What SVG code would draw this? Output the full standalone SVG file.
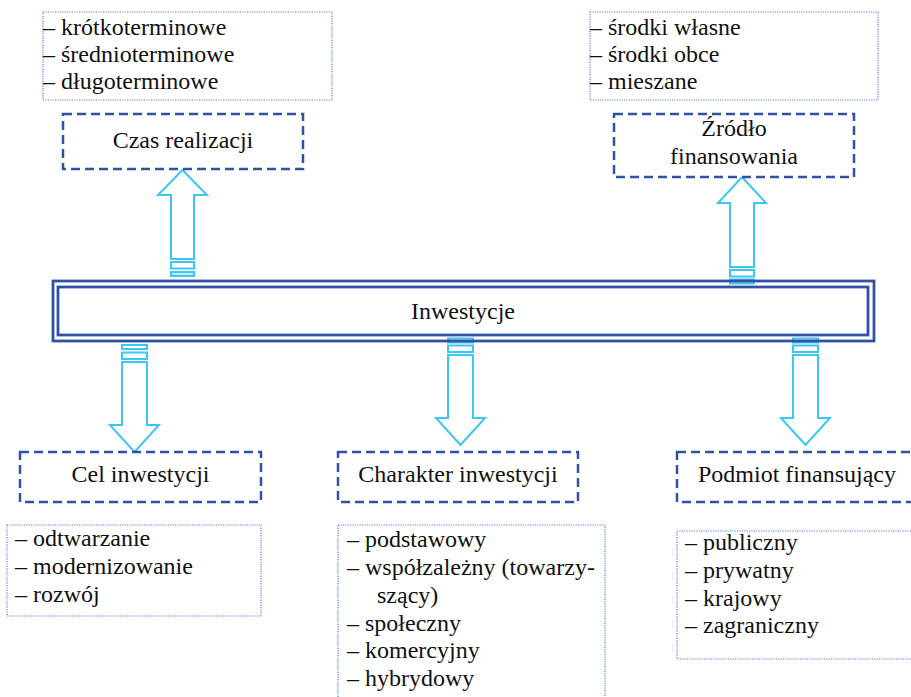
<svg xmlns="http://www.w3.org/2000/svg" width="911" height="697" viewBox="0 0 911 697">
  <style>
    text { font-family: "Liberation Serif", "Times New Roman", serif; font-size: 24px; fill: #111; }
    .mid { text-anchor: middle; }
    .list { fill: #fff; stroke: #5b7fd6; stroke-width: 1.2; stroke-dasharray: 1.2 1.2; }
    .cat { fill: #fff; stroke: #3152a3; stroke-width: 2.5; stroke-dasharray: 9 5; }
    .core { fill: none; stroke: #3152a3; stroke-width: 2.8; }
    .arrow { fill: #fff; stroke: #3cc6f2; stroke-width: 2; }
    .bar { fill: #fff; stroke: #3cc6f2; stroke-width: 2; }
    .bar2 { fill: #c6ecfb; stroke: #3cc6f2; stroke-width: 2; }
  </style>

  <!-- connectors: block arrows from the central box -->
  <g id="connectors">
    <!-- up to "Czas realizacji" -->
    <polygon class="arrow" points="182.5,170 207,195 194,195 194,259 171,259 171,195 158,195"/>
    <rect class="bar" x="171" y="262" width="23" height="6.5"/>
    <rect class="bar2" x="171" y="272" width="23" height="4"/>
    <!-- up to "Źródło finansowania" -->
    <polygon class="arrow" points="742,177 766,203 754,203 754,267 730,267 730,203 718,203"/>
    <rect class="bar" x="730" y="270" width="24" height="6.5"/>
    <rect class="bar2" x="730" y="279.5" width="24" height="4"/>
    <!-- down to "Cel inwestycji" -->
    <rect class="bar" x="122" y="345" width="25" height="4"/>
    <rect class="bar" x="122" y="352.5" width="25" height="6.5"/>
    <polygon class="arrow" points="122,362 147,362 147,425 159,425 134.5,452 110,425 122,425"/>
    <!-- down to "Charakter inwestycji" -->
    <rect class="bar" x="448" y="338.5" width="25" height="4"/>
    <rect class="bar" x="448" y="345.5" width="25" height="6.5"/>
    <polygon class="arrow" points="448,355 473,355 473,418 485,418 460.5,445 436,418 448,418"/>
    <!-- down to "Podmiot finansujący" -->
    <rect class="bar" x="793" y="338.5" width="25" height="4"/>
    <rect class="bar" x="793" y="345.5" width="25" height="6.5"/>
    <polygon class="arrow" points="793,355 818,355 818,418 830,418 805.5,445 781,418 793,418"/>
  </g>

  <!-- central node -->
  <g id="inwestycje">
    <rect class="core" x="53" y="281" width="821" height="60"/>
    <rect class="core" x="58" y="287" width="810" height="48"/>
    <text class="mid" x="463" y="319">Inwestycje</text>
  </g>

  <!-- time horizon -->
  <g id="czas-realizacji-lista">
    <rect class="list" x="43" y="12" width="289" height="88"/>
    <text x="43" y="35">– krótkoterminowe</text>
    <text x="43" y="62">– średnioterminowe</text>
    <text x="43" y="89">– długoterminowe</text>
  </g>
  <g id="czas-realizacji">
    <rect class="cat" x="63" y="114" width="240" height="55"/>
    <text class="mid" x="183" y="148">Czas realizacji</text>
  </g>

  <!-- source of funding -->
  <g id="zrodlo-lista">
    <rect class="list" x="590" y="12" width="288" height="88"/>
    <text x="590" y="35">– środki własne</text>
    <text x="590" y="62">– środki obce</text>
    <text x="590" y="89">– mieszane</text>
  </g>
  <g id="zrodlo-finansowania">
    <rect class="cat" x="614" y="114" width="240" height="63"/>
    <text class="mid" x="734" y="136">Źródło</text>
    <text class="mid" x="734" y="164">finansowania</text>
  </g>

  <!-- purpose -->
  <g id="cel-inwestycji">
    <rect class="cat" x="20" y="452" width="241" height="50"/>
    <text class="mid" x="140.5" y="482">Cel inwestycji</text>
  </g>
  <g id="cel-lista">
    <rect class="list" x="7" y="525" width="254" height="91"/>
    <text x="15" y="546">– odtwarzanie</text>
    <text x="15" y="574">– modernizowanie</text>
    <text x="15" y="602">– rozwój</text>
  </g>

  <!-- character -->
  <g id="charakter-inwestycji">
    <rect class="cat" x="338" y="452" width="240" height="50"/>
    <text class="mid" x="458" y="482">Charakter inwestycji</text>
  </g>
  <g id="charakter-lista">
    <rect class="list" x="338" y="525" width="267" height="185"/>
    <text x="347" y="547">– podstawowy</text>
    <text x="347" y="575">– współzależny (towarzy-</text>
    <text x="377" y="603">szący)</text>
    <text x="347" y="631">– społeczny</text>
    <text x="347" y="658">– komercyjny</text>
    <text x="347" y="686">– hybrydowy</text>
  </g>

  <!-- financing entity -->
  <g id="podmiot-finansujacy">
    <rect class="cat" x="677" y="452" width="241" height="50"/>
    <text class="mid" x="797" y="482">Podmiot finansujący</text>
  </g>
  <g id="podmiot-lista">
    <rect class="list" x="677" y="531" width="250" height="128"/>
    <text x="685" y="550">– publiczny</text>
    <text x="685" y="578">– prywatny</text>
    <text x="685" y="606">– krajowy</text>
    <text x="685" y="633">– zagraniczny</text>
  </g>
</svg>
